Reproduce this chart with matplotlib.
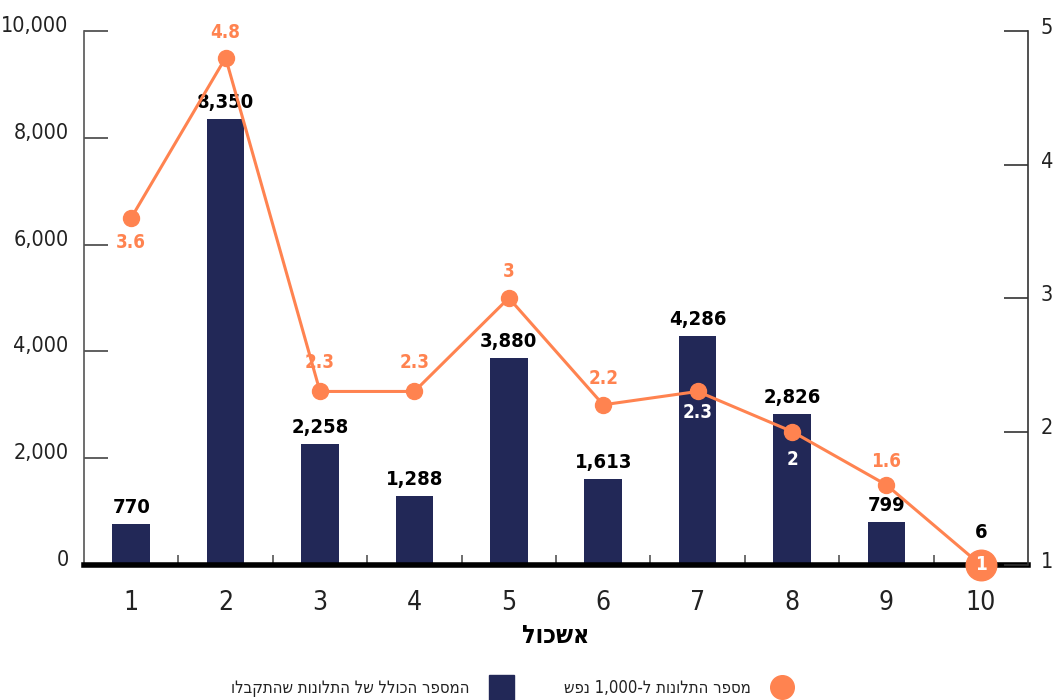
import re
import matplotlib
matplotlib.use("Agg")
import matplotlib.pyplot as plt
from matplotlib import font_manager as fm
from matplotlib.transforms import ScaledTranslation
from matplotlib.lines import Line2D

# ---- data ----
clusters = [1, 2, 3, 4, 5, 6, 7, 8, 9, 10]
complaints_total = [770, 8350, 2258, 1288, 3880, 1613, 4286, 2826, 799, 6]
complaints_per_1000 = [3.6, 4.8, 2.3, 2.3, 3, 2.2, 2.3, 2, 1.6, 1]
rate_labels = ["3.6", "4.8", "2.3", "2.3", "3", "2.2", "2.3", "2", "1.6", "1"]
left_ticks = [0, 2000, 4000, 6000, 8000, 10000]
right_ticks = [1, 2, 3, 4, 5]
x_title = "אשכול"
legend_total = "המספר הכולל של התלונות שהתקבלו"
legend_rate = "מספר התלונות ל-1,000 נפש"

NAVY = "#222857"
ORANGE = "#FF8350"
INK = "#222222"

# ---- fonts: prefer a narrow face ----
installed = {f.name for f in fm.fontManager.ttflist}
face = "Liberation Sans Narrow" if "Liberation Sans Narrow" in installed else "DejaVu Sans"
plt.rcParams["font.family"] = [face, "DejaVu Sans"]
if face == "DejaVu Sans":
    plt.rcParams["font.stretch"] = "condensed"


def visual(s):
    """Hebrew runs right-to-left; numbers stay left-to-right."""
    r = s[::-1]
    return re.sub(r"[0-9][0-9,.]*", lambda m: m.group(0)[::-1], r)


fig = plt.figure(figsize=(10.57, 7), dpi=100)
ax = fig.add_axes([84 / 1057, 135 / 700, 944 / 1057, 534 / 700])

ax.bar(clusters, complaints_total, width=0.4, color=NAVY, zorder=2)
ax.set_xlim(0.5, 10.5)
ax.set_ylim(0, 10000)

for sp in ("top", "right"):
    ax.spines[sp].set_visible(False)
ax.spines["left"].set_color("#555555")
ax.spines["left"].set_linewidth(1.2)
ax.spines["bottom"].set_color("black")
ax.spines["bottom"].set_linewidth(4)
ax.spines["bottom"].set_zorder(3)

ax.set_yticks(left_ticks)
ax.set_yticklabels([f"{v:,}" for v in left_ticks])
ax.tick_params(axis="y", direction="in", length=17, width=1.2, color="#444444",
               labelsize=15.5, labelcolor=INK, pad=11)
for lab in ax.get_yticklabels():
    lab.set_transform(lab.get_transform() + ScaledTranslation(0, 0.07, fig.dpi_scale_trans))

ax.set_xticks(clusters)
ax.set_xticklabels([str(c) for c in clusters])
ax.set_xticks([c + 0.5 for c in clusters[:-1]], minor=True)
ax.tick_params(axis="x", which="major", length=0, pad=18, labelsize=19, labelcolor=INK)
ax.tick_params(axis="x", which="minor", direction="in", length=7, width=1.2, color="#555555")

ax.set_xlabel(visual(x_title), fontsize=18, fontweight="bold", color="black", labelpad=6)

# bar value labels
for x, v in zip(clusters, complaints_total):
    dy = 16 if v < 100 else 5
    ax.annotate(f"{v:,}", (x, v), xytext=(0, dy), textcoords="offset points",
                ha="center", va="bottom", fontsize=14.5, fontweight="bold", color="black")

# ---- rate line on the right axis ----
ax2 = ax.twinx()
ax2.set_ylim(1, 5)
for sp in ("top", "left", "bottom"):
    ax2.spines[sp].set_visible(False)
ax2.spines["right"].set_color("#333333")
ax2.spines["right"].set_linewidth(1.2)
ax2.set_yticks(right_ticks)
ax2.tick_params(axis="y", direction="in", length=17, width=1.2, color="#333333",
                labelsize=15.5, labelcolor=INK, pad=9)
for lab in ax2.get_yticklabels():
    lab.set_transform(lab.get_transform() + ScaledTranslation(0, 0.05, fig.dpi_scale_trans))

ax2.plot(clusters, complaints_per_1000, color=ORANGE, lw=2.2, marker="o", ms=11.5,
         zorder=4, clip_on=False)
ax2.plot(clusters[-1:], complaints_per_1000[-1:], "o", color=ORANGE, ms=22,
         zorder=5, clip_on=False)

offsets = [-18, 18, 21, 21, 19, 19, -15, -20, 17, 0]
colors = [ORANGE, ORANGE, ORANGE, ORANGE, ORANGE, ORANGE, "white", "white", ORANGE, "white"]
for x, r, lab, dy, c in zip(clusters, complaints_per_1000, rate_labels, offsets, colors):
    ax2.annotate(lab, (x, r), xytext=(0, dy), textcoords="offset points",
                 ha="center", va="center", fontsize=13.5, fontweight="bold", color=c,
                 zorder=6, annotation_clip=False)

# ---- legend (right-to-left: text sits left of its key) ----
handles = [
    Line2D([], [], linestyle="none", marker="s", ms=18, color=NAVY),
    Line2D([], [], linestyle="none", marker="o", ms=17, color=ORANGE),
]
fig.legend(handles, [visual(legend_total), visual(legend_rate)], ncol=2,
           markerfirst=False, frameon=False, loc="center",
           bbox_to_anchor=(515 / 1057, 12 / 700), fontsize=12,
           columnspacing=2.8, handletextpad=0.85, labelcolor=INK)

fig.savefig("out.png", dpi=100)
